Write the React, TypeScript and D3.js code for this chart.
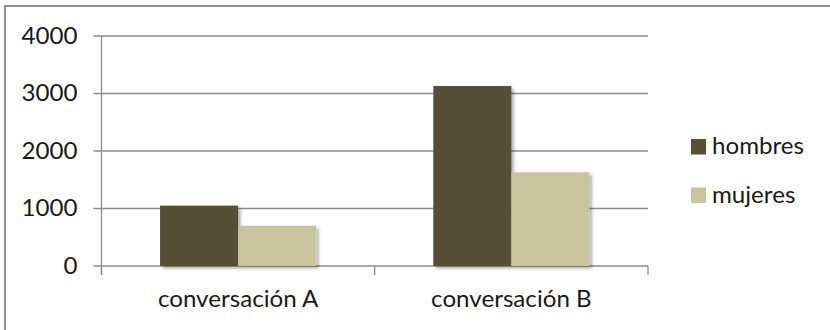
import React from "react";
import * as d3 from "d3";

// Chart data
const categories = ["conversación A", "conversación B"];
const seriesNames = ["hombres", "mujeres"];
const hombres = [1050, 3130];
const mujeres = [700, 1630];
const yTicks = [0, 1000, 2000, 3000, 4000];

const W = 830;
const H = 330;
const plot = { left: 101.5, right: 648, top: 36, bottom: 266 };
const colors = ["#575034", "#C9C49E"];
const gridColor = "#8c8c8c";
const font = "Lato, 'Open Sans', sans-serif";
const fontSize = 23;
const stretch = 1.05;

type LabelProps = { x: number; y: number; anchor: "start" | "middle" | "end"; children: React.ReactNode };

function Label({ x, y, anchor, children }: LabelProps) {
  return (
    <text
      transform={`translate(${x},${y}) scale(${stretch},1)`}
      textAnchor={anchor}
      fontFamily={font}
      fontSize={fontSize}
      fill="#1a1a1a"
    >
      {children}
    </text>
  );
}

export default function App() {
  const y = d3.scaleLinear().domain([0, 4000]).range([plot.bottom, plot.top]);
  const x0 = d3.scaleBand<string>().domain(categories).range([plot.left, plot.right]).padding(0);
  const x1 = d3
    .scaleBand<string>()
    .domain(seriesNames)
    .range([0, x0.bandwidth()])
    .paddingInner(0)
    .paddingOuter(0.75);
  const values: Record<string, number[]> = { hombres, mujeres };
  const boundaries = [...categories.map((c) => x0(c) as number), plot.right];

  return (
    <svg
      width={W}
      height={H}
      style={{ position: "absolute", left: 0, top: 0, background: "#fff" }}
    >
      <defs>
        <filter id="barShadow" x="-10%" y="-10%" width="130%" height="130%">
          <feDropShadow dx="2.5" dy="2.5" stdDeviation="1.8" floodColor="#000" floodOpacity="0.3" />
        </filter>
      </defs>
      <rect x={0} y={0} width={W} height={H} fill="#fff" />
      {/* chart frame */}
      <rect x={5} y={6} width={W + 20} height={H + 20} fill="none" stroke="#8e8e8e" strokeWidth={2} />

      {/* horizontal gridlines and y ticks */}
      {yTicks.map((t) => (
        <g key={t}>
          <line x1={plot.left - 8} x2={plot.right} y1={y(t)} y2={y(t)} stroke={gridColor} strokeWidth={1.3} />
          <Label x={77.5} y={y(t) + 7.5} anchor="end">
            {t}
          </Label>
        </g>
      ))}

      {/* value axis */}
      <line x1={plot.left} x2={plot.left} y1={plot.top} y2={plot.bottom + 9} stroke={gridColor} strokeWidth={1.3} />
      {/* category tick marks */}
      {boundaries.map((b, i) => (
        <line key={i} x1={b} x2={b} y1={plot.bottom} y2={plot.bottom + 9} stroke={gridColor} strokeWidth={1.3} />
      ))}

      {/* bars */}
      {categories.map((c, ci) => (
        <g key={c} transform={`translate(${x0(c)},0)`}>
          {seriesNames.map((s, si) => (
            <rect
              key={s}
              x={x1(s)}
              y={y(values[s][ci])}
              width={x1.bandwidth()}
              height={plot.bottom - y(values[s][ci])}
              fill={colors[si]}
              filter="url(#barShadow)"
            />
          ))}
        </g>
      ))}

      {/* category labels */}
      {categories.map((c) => (
        <Label key={c} x={(x0(c) as number) + x0.bandwidth() / 2} y={307} anchor="middle">
          {c}
        </Label>
      ))}

      {/* legend */}
      {seriesNames.map((s, i) => (
        <g key={s}>
          <rect x={691} y={139 + i * 48.5} width={15} height={15.5} fill={colors[i]} />
          <Label x={712} y={154 + i * 48.5} anchor="start">
            {s}
          </Label>
        </g>
      ))}
    </svg>
  );
}
